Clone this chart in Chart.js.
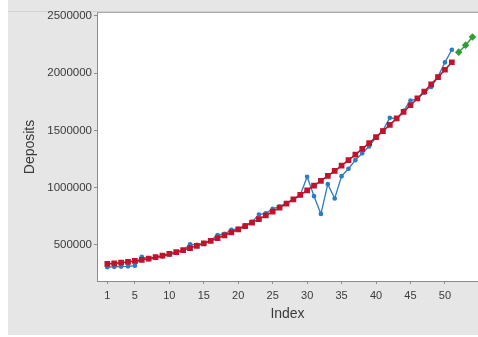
<!DOCTYPE html>
<html>
<head>
<meta charset="utf-8">
<script src="https://cdn.jsdelivr.net/npm/chart.js@4/dist/chart.umd.min.js"></script>
<style>
  html, body { margin: 0; padding: 0; background: #fff; overflow: hidden; }
  canvas { display: block; }
</style>
</head>
<body>
<canvas id="c" width="478" height="337"></canvas>
<script>
// Time index of each observation
const periods = [1,2,3,4,5,6,7,8,9,10,11,12,13,14,15,16,17,18,19,20,21,22,23,24,25,
  26,27,28,29,30,31,32,33,34,35,36,37,38,39,40,41,42,43,44,45,46,47,48,49,50,51];

// Observed deposits
const deposits = [305000,308000,310000,312000,318000,395000,375000,385000,400000,415000,
  430000,450000,505000,500000,515000,540000,585000,595000,630000,640000,
  670000,700000,765000,775000,815000,835000,865000,895000,935000,1095000,
  925000,770000,1030000,905000,1100000,1165000,1240000,1300000,1360000,1440000,
  1500000,1610000,1600000,1670000,1760000,1775000,1830000,1880000,1970000,2095000,2205000];

// Fitted trend values
const fits = [333000,337700,343700,350900,359400,369100,380000,392300,405700,420400,
  436300,453500,472000,491700,512600,534800,558200,582800,608700,635900,
  664300,693900,724900,757000,790400,825000,860900,898000,936400,976000,
  1016900,1059000,1102300,1146900,1192800,1239900,1288200,1337800,1388600,1440700,
  1494000,1548600,1604400,1661500,1719800,1779300,1840100,1902200,1965500,2030000,2095800];

// Forecast periods and values
const forecastPeriods = [52, 53, 54];
const forecasts = [2184000, 2245000, 2316000];

// Axis tick positions
const xTicks = [1, 5, 10, 15, 20, 25, 30, 35, 40, 45, 50];
const yTicks = [500000, 1000000, 1500000, 2000000, 2500000];

const BLUE = '#2c7cc3';
const RED = '#c2122c';
const GREEN = '#2e9e36';
const TEXT = '#3a3a3a';
const AXIS = '#8c8c8c';
const FONT = "'Liberation Sans', Arial, sans-serif";

const toPoints = (xs, ys) => xs.map((x, i) => ({ x: x, y: ys[i] }));

// Grey frame around a white plotting area
const framePlugin = {
  id: 'frame',
  beforeDraw(chart) {
    const { ctx, chartArea: a, width, height } = chart;
    ctx.save();
    ctx.fillStyle = '#ffffff';
    ctx.fillRect(0, 0, width, height);
    ctx.fillStyle = '#e6e6e6';
    ctx.fillRect(8, 0, width - 8, height - 2);
    ctx.fillStyle = '#ffffff';
    ctx.fillRect(a.left, a.top, a.right - a.left, a.bottom - a.top);
    ctx.strokeStyle = '#d2d2d2';
    ctx.beginPath();
    ctx.moveTo(8, a.top - 1.5);
    ctx.lineTo(width, a.top - 1.5);
    ctx.stroke();
    ctx.strokeStyle = '#a9a9a9';
    ctx.beginPath();
    ctx.moveTo(a.left, a.top - 0.5);
    ctx.lineTo(width, a.top - 0.5);
    ctx.stroke();
    ctx.restore();
  }
};

new Chart(document.getElementById('c'), {
  type: 'line',
  data: {
    datasets: [
      {
        label: 'Forecasts',
        data: toPoints(forecastPeriods, forecasts),
        borderColor: GREEN,
        backgroundColor: GREEN,
        borderWidth: 1.4,
        pointStyle: 'rectRot',
        pointRadius: 2.8,
        order: 0
      },
      {
        label: 'Fits',
        data: toPoints(periods, fits),
        borderColor: RED,
        backgroundColor: RED,
        borderWidth: 1.6,
        pointStyle: 'rect',
        pointRadius: 2.9,
        order: 1
      },
      {
        label: 'Actual',
        data: toPoints(periods, deposits),
        borderColor: BLUE,
        backgroundColor: BLUE,
        borderWidth: 1.3,
        pointStyle: 'circle',
        pointRadius: 1.7,
        order: 2
      }
    ]
  },
  options: {
    responsive: false,
    animation: false,
    events: [],
    layout: { autoPadding: false, padding: { left: 8, top: 13, right: 0, bottom: 2 } },
    plugins: {
      legend: { display: false },
      tooltip: { enabled: false }
    },
    elements: { line: { tension: 0 } },
    scales: {
      x: {
        type: 'linear',
        min: -0.5,
        max: 54.8,
        afterBuildTicks: s => { s.ticks = xTicks.map(v => ({ value: v })); },
        afterFit: s => { s.height = 54; s.paddingLeft = 0; s.paddingRight = 0; },
        ticks: {
          autoSkip: false,
          maxRotation: 0,
          padding: 5,
          color: TEXT,
          font: { family: FONT, size: 11 },
          callback: v => String(v)
        },
        grid: { drawOnChartArea: false, drawTicks: true, tickLength: 3, color: AXIS },
        border: { display: true, color: AXIS },
        title: {
          display: true,
          text: 'Index',
          color: TEXT,
          font: { family: FONT, size: 14 },
          padding: { top: 0, bottom: 12 }
        }
      },
      y: {
        type: 'linear',
        min: 184000,
        max: 2526000,
        afterBuildTicks: s => { s.ticks = yTicks.map(v => ({ value: v })); },
        afterFit: s => { s.width = 89; s.paddingTop = 0; s.paddingBottom = 0; },
        ticks: {
          padding: 2,
          color: TEXT,
          font: { family: FONT, size: 11.5 },
          callback: v => String(v)
        },
        grid: { drawOnChartArea: false, drawTicks: true, tickLength: 3, color: AXIS },
        border: { display: true, color: AXIS },
        title: {
          display: true,
          text: 'Deposits',
          color: TEXT,
          font: { family: FONT, size: 14 },
          padding: { top: 14, bottom: 0 }
        }
      }
    }
  },
  plugins: [framePlugin]
});
</script>
</body>
</html>
